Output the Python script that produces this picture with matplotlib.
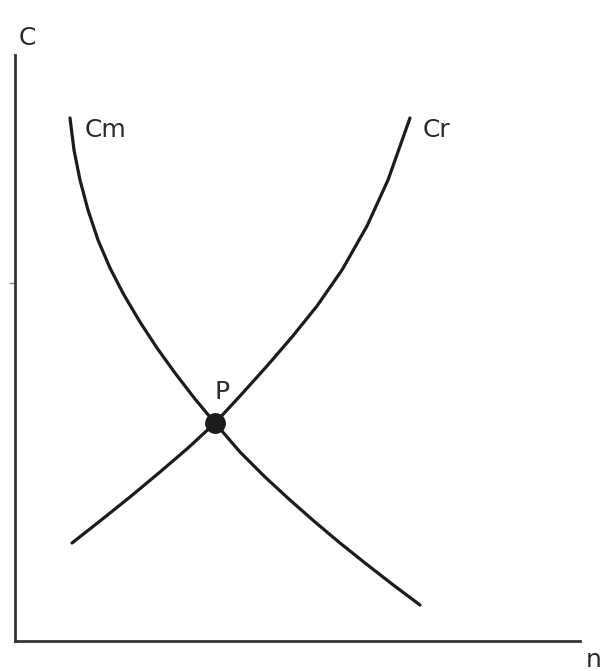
import matplotlib.pyplot as plt
import numpy as np

# curve points (x to the right, y upward, in axis units)
cm_x = [55, 59, 65, 73, 83, 95, 109, 125, 142, 160, 180, 200,
        225, 250, 275, 300, 325, 350, 377, 405]
cm_y = [523, 491, 461, 431, 401, 373, 346, 319, 293, 268, 242, 218,
        189, 164, 141, 119, 98, 78, 57, 36]
cr_x = [57, 85, 115, 145, 173, 200, 225, 252, 277, 302, 327, 352, 373, 395]
cr_y = [98, 120, 144, 169, 193, 218, 245, 275, 304, 335, 371, 415, 461, 523]
p_x, p_y = 200, 218

INK = '#1c1c1c'

fig = plt.figure(figsize=(6.05, 6.71), dpi=100)
ax = fig.add_axes([15 / 605, 30 / 671, 565 / 605, 586 / 671])
ax.set_xlim(0, 565)
ax.set_ylim(0, 586)
for s in ['top', 'right']:
    ax.spines[s].set_visible(False)
for s in ['left', 'bottom']:
    ax.spines[s].set_color('#333333')
    ax.spines[s].set_linewidth(2.0)
ax.set_xticks([])
ax.set_yticks([358])
ax.set_yticklabels([])
ax.tick_params(axis='y', length=4, width=1, color='#888888')

ax.plot(cm_x, cm_y, color=INK, lw=2.3, solid_capstyle='round', solid_joinstyle='round')
ax.plot(cr_x, cr_y, color=INK, lw=2.3, solid_capstyle='round', solid_joinstyle='round')
ax.plot([p_x], [p_y], 'o', color=INK, markersize=14)

font = dict(family='DejaVu Sans', fontsize=18,
            color='#2a2a2a', ha='center', va='center', clip_on=False)
ax.text(12, 603, 'C', **font)
ax.text(90, 511, 'Cm', **font)
ax.text(422, 511, 'Cr', **font)
ax.text(207, 249, 'P', **font)
ax.text(579, -19, 'n', **font)

fig.savefig('out.png', dpi=100)
